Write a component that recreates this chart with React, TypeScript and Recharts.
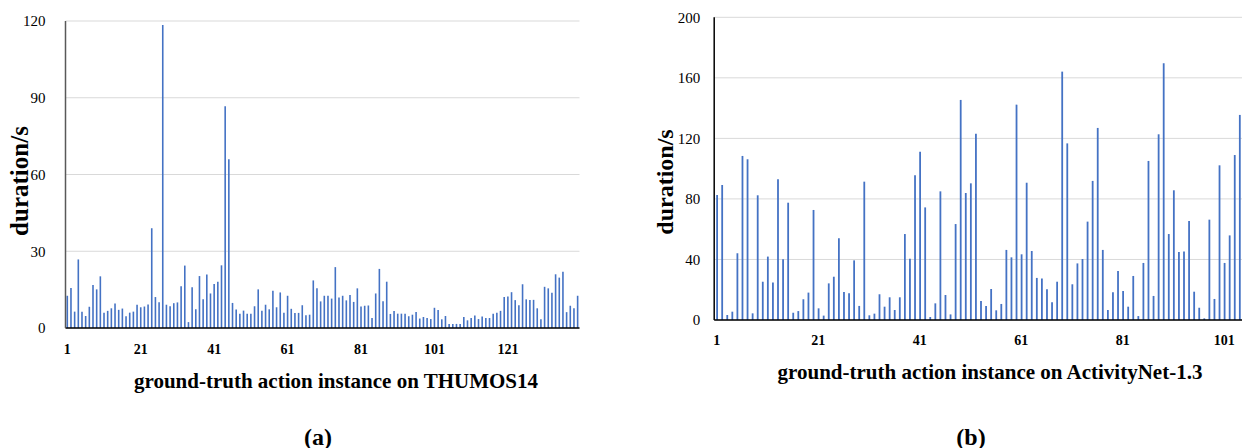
import { Bar, BarChart, CartesianGrid, XAxis, YAxis } from "recharts";

// THUMOS14 instance durations (seconds)
const thumosDurations = [
  12.6, 15.6, 6.4, 26.8, 6.4, 4.7, 8.3, 16.8, 15.1, 20.2, 6.0, 6.7, 7.7, 9.6, 7.1, 7.6, 4.6, 6.0, 6.4, 9.1,
  8.1, 8.4, 9.2, 39, 12.1, 10.1, 118.4, 9.1, 8.5, 9.7, 10, 16.3, 24.4, 2.3, 15.9, 7.3, 20.3, 11.2, 20.9, 13.5,
  17.2, 18.1, 24.5, 86.7, 66, 9.8, 7.2, 5.6, 6.8, 5.6, 5.6, 8.5, 15.1, 6.7, 9.1, 7.3, 14.6, 8.1, 13.9, 6.0,
  12.6, 7.5, 5.9, 5.9, 8.9, 5.0, 5.2, 18.6, 15.5, 10.4, 12.6, 12.6, 11.5, 23.8, 11.9, 12.6, 10.8, 12.9, 10.2, 15.5,
  8.4, 8.7, 8.8, 3.9, 13.5, 23.1, 10.5, 18.1, 5.5, 6.6, 5.6, 5.6, 5.6, 4.6, 5.2, 6.3, 3.7, 4.3, 3.9, 3.5,
  7.9, 7.0, 3.4, 4.7, 1.6, 1.6, 1.6, 1.6, 4.3, 3.0, 3.9, 4.9, 3.5, 4.5, 3.9, 3.9, 5.6, 6.0, 6.7, 12.1,
  12.3, 14.0, 10.9, 8.9, 17.1, 11.2, 10.9, 11.0, 7.7, 3.4, 16.1, 15.5, 13.8, 21.0, 19.7, 22.0, 6.2, 8.7, 7.7, 12.6,
];

// ActivityNet-1.3 instance durations (seconds)
const anetDurations = [
  82.6, 89.2, 3.3, 5.5, 44.1, 108.4, 106.2, 4.4, 82.4, 25.3, 41.9, 24.7, 93, 40.1, 77.5, 4.8, 5.9, 13.7, 18.1, 72.7,
  7.7, 2.9, 24.2, 28.6, 54, 18.5, 17.6, 39.4, 9.3, 91.4, 3.1, 4.2, 17, 8.8, 15, 6.6, 15, 56.8, 40.5, 95.6,
  111.2, 74.4, 2.0, 11, 85, 16.5, 3.7, 63.4, 145.4, 83.9, 90.3, 123.1, 12.6, 9.3, 20.5, 6.4, 10.6, 46.3, 41.4, 142.3,
  43.4, 90.7, 45.6, 27.8, 27.5, 20.3, 11.7, 25.3, 164.1, 116.7, 23.6, 37.4, 40.3, 65, 91.9, 126.9, 46.3, 6.6, 18.3, 32.4,
  19.2, 8.8, 29.1, 2.6, 37.7, 105.1, 15.9, 122.7, 169.6, 56.8, 85.7, 44.9, 45.2, 65.4, 18.7, 8.1, 1.1, 66.3, 13.9, 102.2,
  37.7, 55.9, 109, 135.5,
];

const thumosTicks = [0, 30, 60, 90, 120];
const anetTicks = [0, 40, 80, 120, 160, 200];

const thumosData = thumosDurations.map((d, i) => ({ id: String(i + 1), d }));
const anetData = anetDurations.map((d, i) => ({ id: String(i + 1), d }));

const FONT = '"Liberation Serif", "Times New Roman", serif';
const BLUE = "#4472C4";
const xTick = { fill: "#000", fontSize: 14, fontWeight: 700, fontFamily: FONT };
const yTick = { fill: "#000", fontSize: 15, fontWeight: 400, fontFamily: FONT };

const textBase: React.CSSProperties = {
  position: "absolute",
  fontFamily: FONT,
  fontWeight: 700,
  color: "#000",
  whiteSpace: "nowrap",
};

export default function App() {
  return (
    <div style={{ position: "absolute", left: 0, top: 0, width: 1242, height: 448, background: "#fff", overflow: "hidden" }}>
      {/* panel (a) */}
      <div style={{ position: "absolute", left: 0, top: 0 }}>
        <BarChart width={600} height={448} data={thumosData} margin={{ top: 21, right: 20.5, bottom: 0, left: 0 }}>
          <CartesianGrid vertical={false} stroke="#d9d9d9" />
          <XAxis
            dataKey="id"
            height={120}
            interval={19}
            tickLine={false}
            tickMargin={10}
            axisLine={{ stroke: "#000", strokeWidth: 1.5 }}
            tick={xTick}
          />
          <YAxis
            width={65.5}
            domain={[0, 120]}
            ticks={thumosTicks}
            tickLine={false}
            tickMargin={14}
            axisLine={{ stroke: "#595959", strokeWidth: 1.5 }}
            tick={yTick}
          />
          <Bar dataKey="d" fill={BLUE} barSize={1.6} isAnimationActive={false} />
        </BarChart>
      </div>
      <div style={{ ...textBase, fontSize: 25, left: 20, top: 181, transform: "translate(-50%, -50%) rotate(-90deg)" }}>
        duration/s
      </div>
      <div style={{ ...textBase, fontSize: 21, left: 336, top: 381, transform: "translate(-50%, -50%)" }}>
        ground-truth action instance on THUMOS14
      </div>
      <div style={{ ...textBase, fontSize: 24, left: 318, top: 437, transform: "translate(-50%, -50%)" }}>
        (a)
      </div>

      {/* panel (b) */}
      <div style={{ position: "absolute", left: 620, top: 0 }}>
        <BarChart width={622} height={448} data={anetData} margin={{ top: 17.3, right: 0, bottom: 0, left: 0 }}>
          <CartesianGrid vertical={false} stroke="#d9d9d9" />
          <XAxis
            dataKey="id"
            height={128}
            interval={19}
            tickLine={false}
            tickMargin={9}
            axisLine={{ stroke: "#000", strokeWidth: 1.5 }}
            tick={xTick}
          />
          <YAxis
            width={94.2}
            domain={[0, 200]}
            ticks={anetTicks}
            tickLine={false}
            tickMargin={8}
            axisLine={{ stroke: "#000", strokeWidth: 1.5 }}
            tick={yTick}
          />
          <Bar dataKey="d" fill={BLUE} barSize={1.8} isAnimationActive={false} />
        </BarChart>
      </div>
      <div style={{ ...textBase, fontSize: 24, left: 665, top: 182, transform: "translate(-50%, -50%) rotate(-90deg)" }}>
        duration/s
      </div>
      <div style={{ ...textBase, fontSize: 21, left: 990, top: 372, transform: "translate(-50%, -50%)" }}>
        ground-truth action instance on ActivityNet-1.3
      </div>
      <div style={{ ...textBase, fontSize: 24, left: 971, top: 437, transform: "translate(-50%, -50%)" }}>
        (b)
      </div>
    </div>
  );
}
